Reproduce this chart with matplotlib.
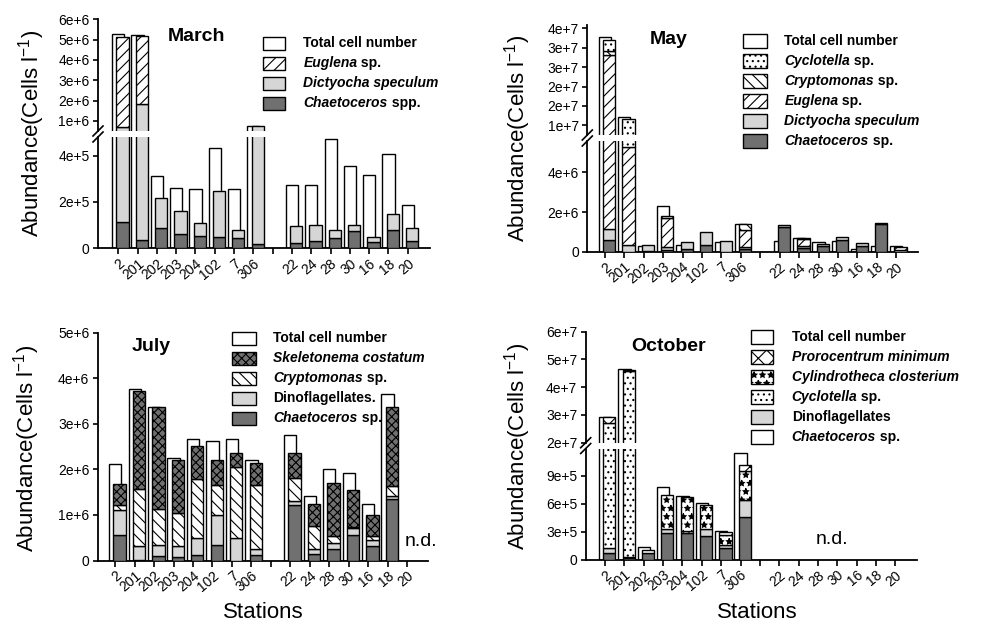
import numpy as np
import matplotlib
matplotlib.use('Agg')
import matplotlib.pyplot as plt
from matplotlib.patches import Rectangle
from matplotlib.lines import Line2D

plt.rcParams['font.family'] = ['Liberation Sans', 'DejaVu Sans']
plt.rcParams['mathtext.fontset'] = 'custom'
plt.rcParams['mathtext.rm'] = 'Liberation Sans'
plt.rcParams['mathtext.it'] = 'Liberation Sans:italic'
plt.rcParams['mathtext.bf'] = 'Liberation Sans:bold'
plt.rcParams['hatch.linewidth'] = 0.8

# ---------------- data ----------------
stations = ['2', '201', '202', '203', '204', '102', '7', '306',
            '22', '24', '28', '30', '16', '18', '20']
xpos = np.array([0, 1, 2, 3, 4, 5, 6, 7, 9, 10, 11, 12, 13, 14, 15], float)
tick_labels = stations[:8] + [''] + stations[8:]

# March (cells/l)
mar_total = np.array([5.26e6, 5.21e6, 3.1e5, 2.58e5, 2.54e5, 4.33e5, 2.54e5, 7.3e5,
                      2.71e5, 2.71e5, 4.7e5, 3.54e5, 3.15e5, 4.06e5, 1.85e5])
mar_chaetoceros = np.array([113e3, 35e3, 85e3, 59e3, 51e3, 46e3, 42e3, 16e3,
                            20e3, 29e3, 43e3, 72e3, 25e3, 77e3, 29e3])
mar_dictyocha = np.array([577e3, 1785e3, 130e3, 100e3, 56e3, 199e3, 35e3, 714e3,
                          75e3, 69e3, 34e3, 26e3, 21e3, 69e3, 56e3])
mar_euglena = np.array([4420e3, 3360e3, 0, 0, 0, 0, 0, 0, 0, 0, 0, 0, 0, 0, 0])

# May
may_total = np.array([3.77e7, 1.70e7, 2.7e5, 2.3e6, 3.4e5, 0, 4.7e5, 1.38e6,
                      5.4e5, 6.7e5, 4.7e5, 5.4e5, 1.4e5, 2.9e5, 2.9e5])
may_chaetoceros = np.array([590e3, 0, 50e3, 100e3, 140e3, 320e3, 0, 120e3,
                            1260e3, 170e3, 300e3, 590e3, 300e3, 1380e3, 0])
may_dictyocha = np.array([540e3, 320e3, 270e3, 150e3, 350e3, 670e3, 520e3, 130e3,
                          90e3, 120e3, 90e3, 140e3, 120e3, 70e3, 100e3])
may_euglena = np.array([32070e3, 4970e3, 0, 1430e3, 0, 0, 0, 850e3,
                        0, 350e3, 0, 0, 0, 0, 150e3])
may_cryptomonas = np.array([1100e3, 0, 0, 120e3, 0, 0, 0, 280e3,
                            0, 70e3, 0, 0, 0, 0, 0])
may_cyclotella = np.array([2600e3, 11210e3, 0, 0, 0, 0, 0, 0,
                           0, 0, 0, 0, 0, 0, 0])

# July
jul_total = np.array([2.11e6, 3.77e6, 3.38e6, 2.24e6, 2.66e6, 2.63e6, 2.66e6, 2.2e6,
                      2.76e6, 1.41e6, 2.0e6, 1.91e6, 1.25e6, 3.66e6, 0])
jul_chaetoceros = np.array([0.57, 0.02, 0.095, 0.07, 0.11, 0.34, 0, 0.11,
                            1.22, 0.15, 0.26, 0.56, 0.31, 1.34, 0]) * 1e6
jul_dino = np.array([0.53, 0.29, 0.245, 0.24, 0.39, 0.65, 0.50, 0.15,
                     0.09, 0.11, 0.12, 0.16, 0.14, 0.07, 0]) * 1e6
jul_cryptomonas = np.array([0.11, 1.25, 0.79, 0.73, 1.28, 0.66, 1.56, 1.39,
                            0.49, 0.49, 0.15, 0.02, 0.08, 0.22, 0]) * 1e6
jul_skeletonema = np.array([0.48, 2.15, 2.23, 1.16, 0.74, 0.55, 0.29, 0.50,
                            0.57, 0.50, 1.18, 0.80, 0.46, 1.74, 0]) * 1e6

# October
oct_total = np.array([2.94e7, 4.64e7, 1.39e5, 7.76e5, 6.83e5, 6.07e5, 3.11e5, 1.146e6,
                      0, 0, 0, 0, 0, 0, 0])
oct_chaetoceros = np.array([69e3, 20e3, 70e3, 283e3, 283e3, 254e3, 129e3, 454e3,
                            0, 0, 0, 0, 0, 0, 0])
oct_dino = np.array([53e3, 5e3, 0, 46e3, 0, 72e3, 32e3, 182e3, 0, 0, 0, 0, 0, 0, 0])
oct_cyclotella = np.array([27.08e6, 45.955e6, 34e3, 0, 21e3, 0, 0, 0,
                           0, 0, 0, 0, 0, 0, 0])
oct_cylindrotheca = np.array([0, 200e3, 0, 364e3, 371e3, 257e3, 104e3, 314e3,
                              0, 0, 0, 0, 0, 0, 0])
oct_prorocentrum = np.array([1.9e6, 0, 0, 0, 0, 0, 29e3, 68e3,
                             0, 0, 0, 0, 0, 0, 0])

# ---------------- styles ----------------
DARK = '#707070'
LIGHT = '#d6d6d6'
S_TOTAL = dict(facecolor='white')
S_CHAET = dict(facecolor=DARK)
S_LIGHT = dict(facecolor=LIGHT)
S_EUG = dict(facecolor='white', hatch='///')
S_CRYP = dict(facecolor='white', hatch='\\\\\\')
S_CYCLO = dict(facecolor='white', hatch='...')
S_SKEL = dict(facecolor='#707070', hatch='xxxx')
S_CYLI = dict(facecolor='white', hatch='**')
S_PRORO = dict(facecolor='white', hatch='xx')

W, H = 995, 643
fig = plt.figure(figsize=(W / 100, H / 100), dpi=100)
renderer = fig.canvas.get_renderer()

BW = 0.63
OFF = 0.22
LW = 1.0


def add_ax(x0, y0, x1, y1):
    return fig.add_axes([x0 / W, 1 - y1 / H, (x1 - x0) / W, (y1 - y0) / H])


def style_ax(ax, xlim, ylim, yticks, ylabels, bottom):
    ax.set_xlim(*xlim)
    ax.set_ylim(*ylim)
    ax.patch.set_alpha(0)
    for s in ['top', 'right']:
        ax.spines[s].set_visible(False)
    ax.spines['left'].set_linewidth(1.3)
    ax.spines['bottom'].set_linewidth(1.3)
    ax.set_yticks(yticks)
    ax.set_yticklabels(ylabels, fontsize=10)
    ax.tick_params(axis='y', direction='out', length=3.6, width=1.2, pad=2.5)
    if bottom:
        ax.set_xticks(np.arange(16))
        ax.set_xticklabels(tick_labels, fontsize=10, rotation=40, ha='right',
                           rotation_mode='anchor')
        ax.tick_params(axis='x', direction='out', length=4, width=1.2, pad=2)
    else:
        ax.spines['bottom'].set_visible(False)
        ax.set_xticks([])


def draw_bars(ax, total, segments, styles):
    m = total > 0
    ax.bar(xpos[m], total[m], width=BW, edgecolor='black', linewidth=LW,
           zorder=2, **S_TOTAL)
    bottom = np.zeros(len(xpos))
    for seg, st in zip(segments, styles):
        m = seg > 0
        ax.bar(xpos[m] + OFF, seg[m], width=BW, bottom=bottom[m],
               edgecolor='black', linewidth=LW, zorder=3, **st)
        bottom = bottom + seg


def break_marks(x, y_up, y_lo):
    for y in (y_up, y_lo):
        fig.add_artist(Line2D([(x - 5) / W, (x + 5) / W],
                              [1 - (y + 5) / H, 1 - (y - 5) / H],
                              color='black', lw=1.2))


def mixed_text(x, y, parts, size=10):
    cx = x
    for s, it in parts:
        t = fig.text(cx / W, 1 - y / H, s, fontsize=size, fontweight='bold',
                     fontstyle='italic' if it else 'normal',
                     va='center', ha='left')
        cx += t.get_window_extent(renderer).width


def legend(x_sw, w_sw, y_top, h_sw, x_txt, entries):
    for i, (st, parts) in enumerate(entries):
        y = y_top + i * 20
        r = Rectangle((x_sw / W, 1 - (y + h_sw) / H), w_sw / W, h_sw / H,
                      transform=fig.transFigure, edgecolor='black',
                      linewidth=1.0, **st)
        fig.add_artist(r)
        mixed_text(x_txt, y + h_sw / 2, parts)


def ylab(x, y):
    fig.text(x / W, 1 - y / H, r'Abundance(Cells l$^{-1}$)', rotation=90,
             fontsize=16, ha='center', va='center')


# ---------------- March ----------------
xl = (-1.05, 16.15)
axu = add_ax(98, 19.3, 430, 131)
axl = add_ax(98, 137, 430, 248)
segs = [mar_chaetoceros, mar_dictyocha, mar_euglena]
sts = [S_CHAET, S_LIGHT, S_EUG]
for ax in (axu, axl):
    draw_bars(ax, mar_total, segs, sts)
style_ax(axu, xl, (0.5e6, 6e6), [1e6, 2e6, 3e6, 4e6, 5e6, 6e6],
         ['1e+6', '2e+6', '3e+6', '4e+6', '5e+6', '6e+6'], False)
style_ax(axl, xl, (0, 4.8e5), [0, 2e5, 4e5], ['0', '2e+5', '4e+5'], True)
break_marks(98, 131, 137)
fig.text(196.7 / W, 1 - 36.7 / H, 'March', fontsize=14, fontweight='bold',
         ha='center', va='center')
legend(263.3, 21.7, 36.7, 13.3, 303.3, [
    (S_TOTAL, [('Total cell number', False)]),
    (S_EUG, [('Euglena', True), (' sp.', False)]),
    (S_LIGHT, [('Dictyocha speculum', True)]),
    (S_CHAET, [('Chaetoceros', True), (' spp.', False)]),
])
ylab(32, 133)

# ---------------- May ----------------
xl = (-0.9, 16.1)
axu = add_ax(587.3, 25, 917.7, 135)
axl = add_ax(587.3, 141, 917.7, 251.7)
segs = [may_chaetoceros, may_dictyocha, may_euglena, may_cryptomonas, may_cyclotella]
sts = [S_CHAET, S_LIGHT, S_EUG, S_CRYP, S_CYCLO]
for ax in (axu, axl):
    draw_bars(ax, may_total, segs, sts)
style_ax(axu, xl, (1.247e7, 4.09e7), [1.5e7, 2e7, 2.5e7, 3e7, 3.5e7, 4e7],
         ['1e+7', '2e+7', '2e+7', '3e+7', '3e+7', '4e+7'], False)
style_ax(axl, xl, (0, 5.58e6), [0, 2e6, 4e6], ['0', '2e+6', '4e+6'], True)
break_marks(587.3, 135, 141)
fig.text(669 / W, 1 - 40 / H, 'May', fontsize=14, fontweight='bold',
         ha='center', va='center')
legend(743.3, 23.4, 34.3, 14, 784.3, [
    (S_TOTAL, [('Total cell number', False)]),
    (S_CYCLO, [('Cyclotella', True), (' sp.', False)]),
    (S_CRYP, [('Cryptomonas', True), (' sp.', False)]),
    (S_EUG, [('Euglena', True), (' sp.', False)]),
    (S_LIGHT, [('Dictyocha speculum', True)]),
    (S_CHAET, [('Chaetoceros', True), (' sp.', False)]),
])
ylab(518, 138)

# ---------------- July ----------------
xl = (-0.9, 16.06)
ax = add_ax(97.7, 332.7, 427.7, 560.5)
draw_bars(ax, jul_total, [jul_chaetoceros, jul_dino, jul_cryptomonas, jul_skeletonema],
          [S_CHAET, S_LIGHT, S_CRYP, S_SKEL])
style_ax(ax, xl, (0, 5e6), [0, 1e6, 2e6, 3e6, 4e6, 5e6],
         ['0', '1e+6', '2e+6', '3e+6', '4e+6', '5e+6'], True)
fig.text(151.7 / W, 1 - 346.7 / H, 'July', fontsize=14, fontweight='bold',
         ha='center', va='center')
legend(232.3, 23.4, 331.7, 13.3, 273.3, [
    (S_TOTAL, [('Total cell number', False)]),
    (S_SKEL, [('Skeletonema costatum', True)]),
    (S_CRYP, [('Cryptomonas', True), (' sp.', False)]),
    (S_LIGHT, [('Dinoflagellates.', False)]),
    (S_CHAET, [('Chaetoceros', True), (' sp.', False)]),
])
fig.text(421 / W, 1 - 542 / H, 'n.d.', fontsize=14, ha='center', va='center')
fig.text(263 / W, 1 - 612 / H, 'Stations', fontsize=16, ha='center', va='center')
ylab(27, 448)

# ---------------- October ----------------
xl = (-1.0, 16.1)
axu = add_ax(585.7, 331.7, 916.7, 442.7)
axl = add_ax(585.7, 448.5, 916.7, 559.7)
segs = [oct_chaetoceros, oct_dino, oct_cyclotella, oct_cylindrotheca, oct_prorocentrum]
sts = [S_CHAET, S_LIGHT, S_CYCLO, S_CYLI, S_PRORO]
for ax in (axu, axl):
    draw_bars(ax, oct_total, segs, sts)
style_ax(axu, xl, (2e7, 6e7), [2e7, 3e7, 4e7, 5e7, 6e7],
         ['2e+7', '3e+7', '4e+7', '5e+7', '6e+7'], False)
style_ax(axl, xl, (0, 1.19e6), [0, 3e5, 6e5, 9e5], ['0', '3e+5', '6e+5', '9e+5'], True)
break_marks(585.7, 442.7, 448.5)
fig.text(669 / W, 1 - 346.7 / H, 'October', fontsize=14, fontweight='bold',
         ha='center', va='center')
legend(751, 22.3, 330, 14.3, 791.7, [
    (S_TOTAL, [('Total cell number', False)]),
    (S_PRORO, [('Prorocentrum minimum', True)]),
    (S_CYLI, [('Cylindrotheca closterium', True)]),
    (S_CYCLO, [('Cyclotella', True), (' sp.', False)]),
    (S_LIGHT, [('Dinoflagellates', False)]),
    (S_TOTAL, [('Chaetoceros', True), (' sp.', False)]),
])
fig.text(832 / W, 1 - 540 / H, 'n.d.', fontsize=14, ha='center', va='center')
fig.text(757 / W, 1 - 612 / H, 'Stations', fontsize=16, ha='center', va='center')
ylab(517.5, 446)

fig.savefig('out.png', dpi=100)
